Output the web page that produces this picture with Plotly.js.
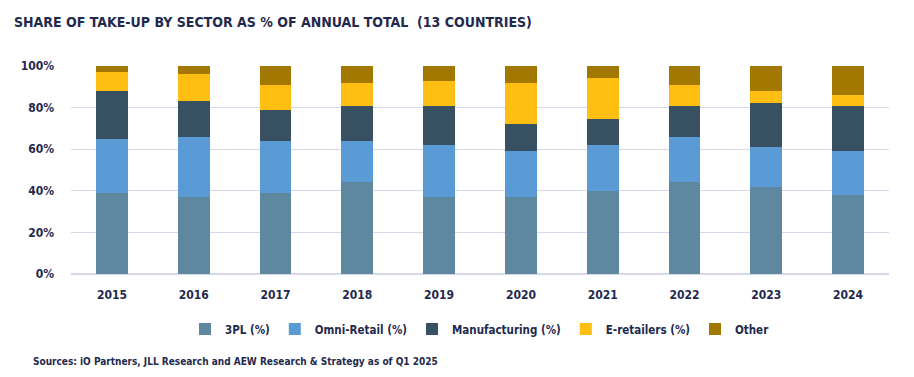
<!DOCTYPE html>
<html>
<head>
<meta charset="utf-8">
<script src="https://cdn.plot.ly/plotly-3.0.1.min.js"></script>
<style>html,body{margin:0;padding:0;background:#fff;}#chart{width:914px;height:377px;}
svg text{font-stretch:condensed !important;}</style>
</head>
<body>
<div id="chart"></div>
<script>
const years = ['2015','2016','2017','2018','2019','2020','2021','2022','2023','2024'];
const tpl = [39, 37, 39, 44, 37, 37, 40, 44, 42, 38];
const omni = [26, 29, 25, 20, 25, 22, 22, 22, 19, 21];
const manufacturing = [23, 17, 15, 17, 19, 13, 12.5, 15, 21, 22];
const eretailers = [9, 13, 12, 11, 12, 20, 19.5, 10, 6, 5];
const other = [3, 4, 9, 8, 7, 8, 6, 9, 12, 14];
const yTicks = [0, 20, 40, 60, 80, 100];
const yTickLabels = ['0%', '20%', '40%', '60%', '80%', '100%'];

const font = "'DejaVu Sans Condensed', 'DejaVu Sans', sans-serif";
const textColor = '#1F2A4E';

const series = [
  {name: '3PL (%)', y: tpl, color: '#5E87A0'},
  {name: 'Omni-Retail (%)', y: omni, color: '#5A9BD5'},
  {name: 'Manufacturing (%)', y: manufacturing, color: '#375162'},
  {name: 'E-retailers (%)', y: eretailers, color: '#FFBE12'},
  {name: 'Other', y: other, color: '#A37800'}
];

const data = series.map(s => ({
  type: 'bar', x: years, y: s.y, name: s.name,
  marker: {color: s.color, line: {width: 0}},
  hoverinfo: 'x+y+name'
}));

const layout = {
  width: 914, height: 377,
  barmode: 'stack', bargap: 0.61,
  margin: {l: 71, r: 25, t: 66, b: 103},
  paper_bgcolor: '#fff', plot_bgcolor: '#fff',
  font: {family: font, color: textColor, size: 12, weight: 'bold'},
  title: {text: 'SHARE OF TAKE-UP BY SECTOR AS % OF ANNUAL TOTAL  (13 COUNTRIES)',
    x: 14/914, xanchor: 'left', xref: 'container', y: 1 - 22/377, yanchor: 'middle',
    font: {family: font, size: 14, color: textColor, weight: 'bold'}},
  xaxis: {type: 'category', tickfont: {family: font, size: 12, color: textColor, weight: 'bold'},
    showgrid: false, showline: false, ticks: '', ticklabelstandoff: 12},
  yaxis: {range: [0, 100], tickvals: yTicks, ticktext: yTickLabels,
    tickfont: {family: font, size: 12, color: textColor, weight: 'bold'},
    showgrid: true, gridcolor: '#D6D9EC', gridwidth: 1.3,
    zeroline: true, zerolinecolor: '#D6D9EC', zerolinewidth: 1.3,
    showline: false, ticks: '', ticklabelstandoff: 16},
  showlegend: true,
  legend: {orientation: 'h', x: 0.5, xanchor: 'center', y: (274 - 329) / 208, yanchor: 'middle',
    font: {family: font, size: 11.5, color: textColor, weight: 'bold'}, traceorder: 'normal',
    itemwidth: 30, tracegroupgap: 0},
  annotations: [{
    text: 'Sources: iO Partners, JLL Research and AEW Research & Strategy as of Q1 2025',
    xref: 'paper', yref: 'paper', x: (31 - 71) / 818, xanchor: 'left',
    y: (274 - 361) / 208, yanchor: 'middle', showarrow: false,
    font: {family: font, size: 10, color: textColor, weight: 'bold'}
  }]
};

Plotly.newPlot('chart', data, layout, {displayModeBar: false, staticPlot: true});
</script>
</body>
</html>
